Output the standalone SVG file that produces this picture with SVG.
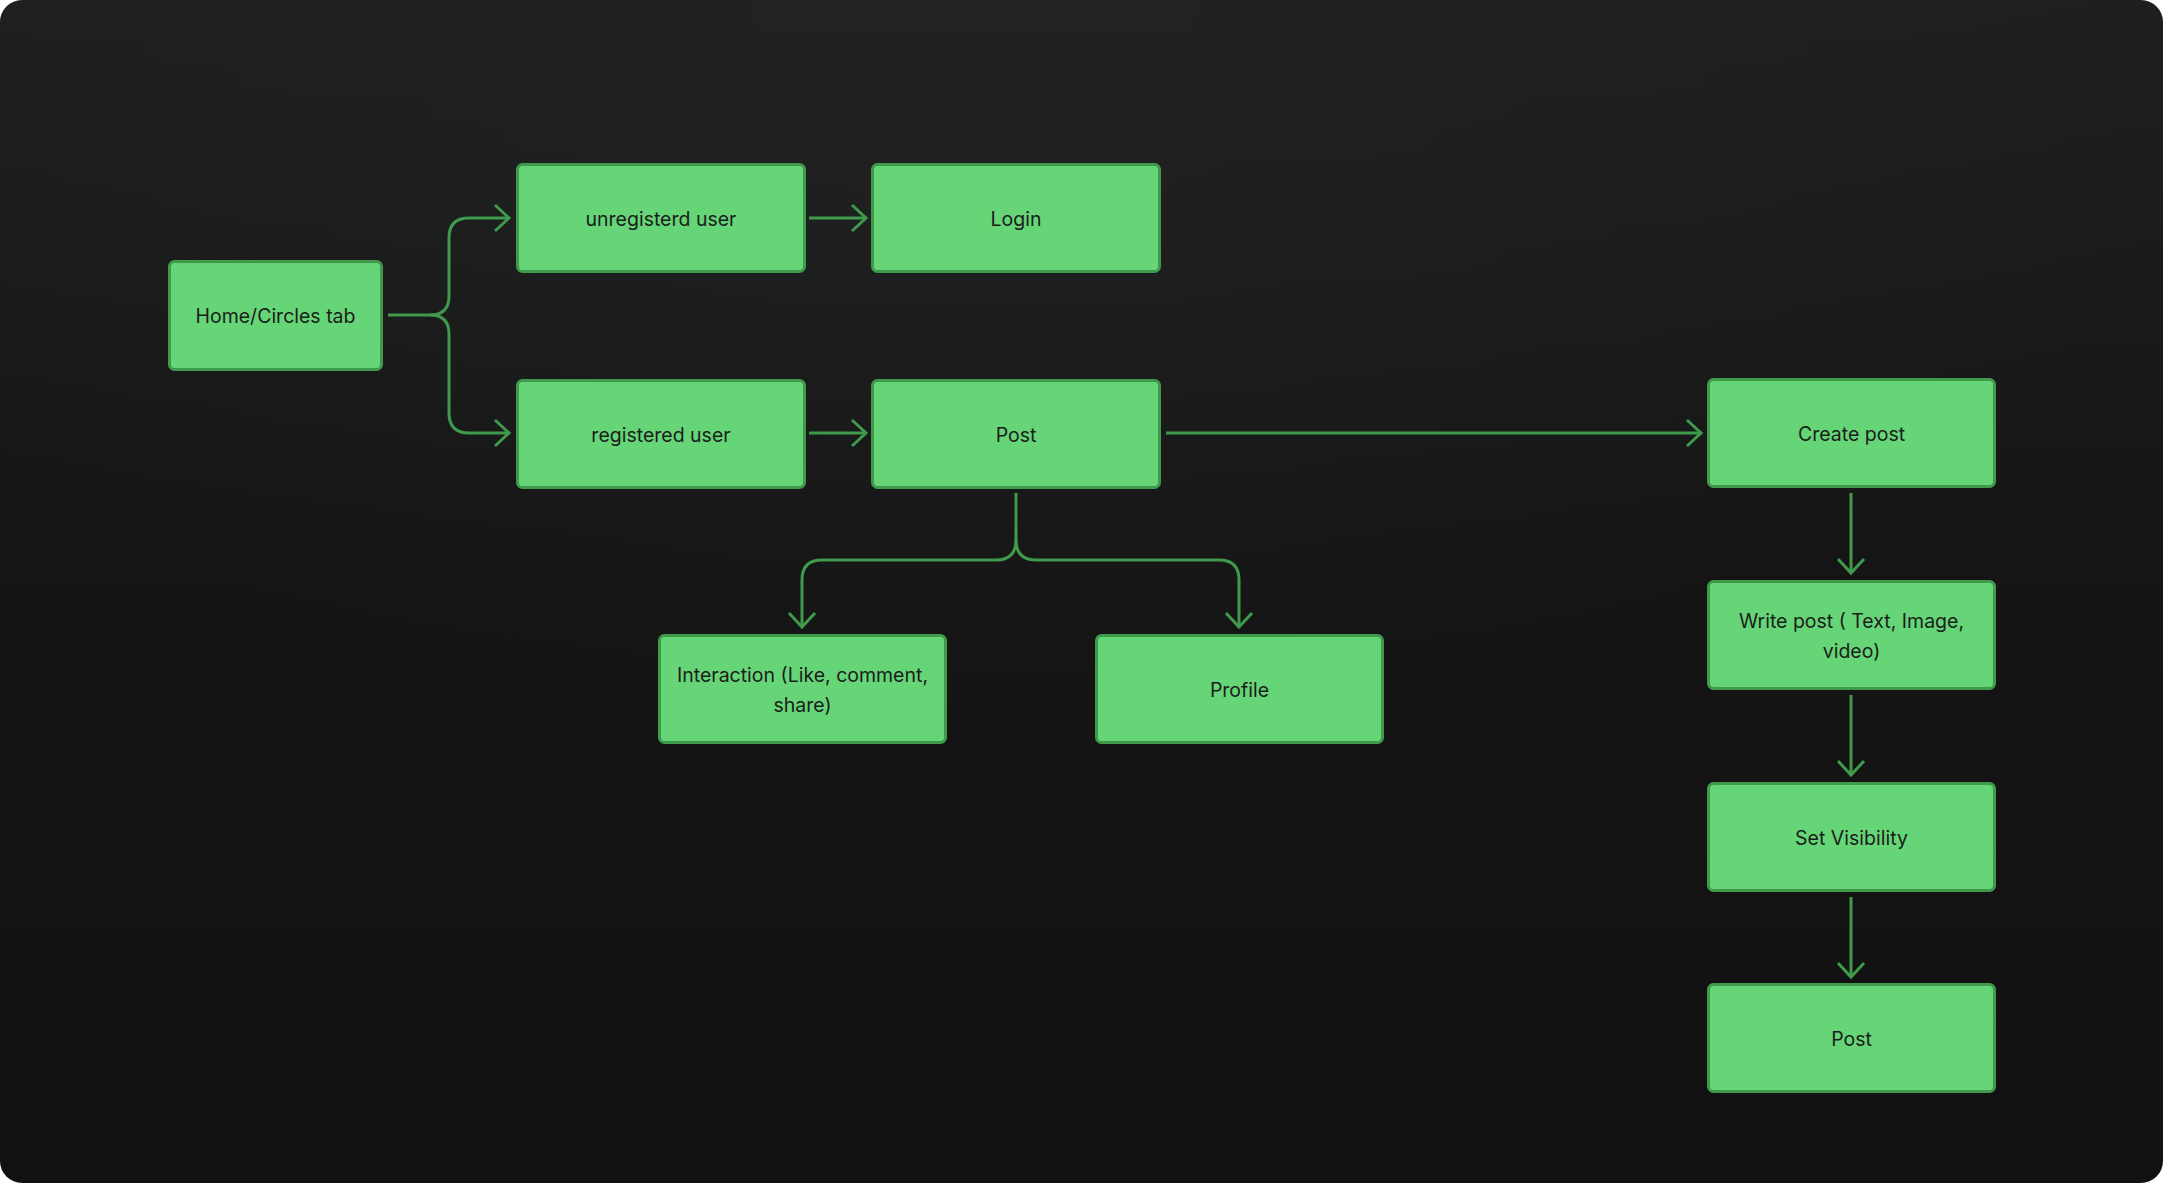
<svg xmlns="http://www.w3.org/2000/svg" width="2163" height="1183" viewBox="0 0 2163 1183">
<defs>
<linearGradient id="bg" x1="0" y1="0" x2="0" y2="1">
<stop offset="0" stop-color="#1e2020"/>
<stop offset="0.45" stop-color="#151515"/>
<stop offset="1" stop-color="#111111"/>
</linearGradient>
<radialGradient id="glow" cx="0.45" cy="0" r="0.6">
<stop offset="0" stop-color="#232525" stop-opacity="0.6"/>
<stop offset="1" stop-color="#232525" stop-opacity="0"/>
</radialGradient>
<marker id="ah" viewBox="0 0 20 30" refX="17" refY="15" markerWidth="20" markerHeight="30" markerUnits="userSpaceOnUse" orient="auto">
<path d="M3 2 L17 15 L3 28" fill="none" stroke="#3f9a4b" stroke-width="3"/>
</marker>
<style>
.node rect{fill:#65d577;stroke:#3f9a4b;stroke-width:3}
.node text{font-family:Inter,"Liberation Sans",sans-serif;font-size:19.5px;fill:#1b1d1b;text-anchor:middle;dominant-baseline:central}
.conn path{fill:none;stroke:#3f9a4b;stroke-width:3}
</style>
</defs>
<rect width="2163" height="1183" fill="#ffffff"/>
<rect width="2163" height="1183" rx="22" fill="url(#bg)"/>
<rect width="2163" height="1183" rx="22" fill="url(#glow)"/>

<g class="conn" id="connectors">
<path d="M388 315 L430 315 Q449 315 449 296 L449 238 Q449 218 469 218 L509 218" marker-end="url(#ah)"/>
<path d="M430 315 Q449 315 449 334 L449 413 Q449 433 469 433 L509 433" marker-end="url(#ah)"/>
<path d="M809 218 L866 218" marker-end="url(#ah)"/>
<path d="M809 433 L866 433" marker-end="url(#ah)"/>
<path d="M1166 433 L1701 433" marker-end="url(#ah)"/>
<path d="M1016 493 L1016 540 Q1016 560 996 560 L822 560 Q802 560 802 580 L802 627" marker-end="url(#ah)"/>
<path d="M1016 540 Q1016 560 1036 560 L1219 560 Q1239 560 1239 580 L1239 627" marker-end="url(#ah)"/>
<path d="M1851 493 L1851 573" marker-end="url(#ah)"/>
<path d="M1851 695 L1851 775" marker-end="url(#ah)"/>
<path d="M1851 897 L1851 977" marker-end="url(#ah)"/>
</g>

<g class="node" id="home"><rect x="169.5" y="261.5" width="212" height="108" rx="5"/><text x="275.5" y="316">Home/Circles tab</text></g>
<g class="node" id="unregistered"><rect x="517.5" y="164.5" width="287" height="107" rx="5"/><text x="661" y="219">unregisterd user</text></g>
<g class="node" id="login"><rect x="872.5" y="164.5" width="287" height="107" rx="5"/><text x="1016" y="219">Login</text></g>
<g class="node" id="registered"><rect x="517.5" y="380.5" width="287" height="107" rx="5"/><text x="661" y="434.5">registered user</text></g>
<g class="node" id="post"><rect x="872.5" y="380.5" width="287" height="107" rx="5"/><text x="1016" y="434.5">Post</text></g>
<g class="node" id="interaction"><rect x="659.5" y="635.5" width="286" height="107" rx="5"/><text x="802.5" y="674.5">Interaction (Like, comment,</text><text x="802.5" y="704.5">share)</text></g>
<g class="node" id="profile"><rect x="1096.5" y="635.5" width="286" height="107" rx="5"/><text x="1239.5" y="689.5">Profile</text></g>
<g class="node" id="create"><rect x="1708.5" y="379.5" width="286" height="107" rx="5"/><text x="1851.5" y="434">Create post</text></g>
<g class="node" id="write"><rect x="1708.5" y="581.5" width="286" height="107" rx="5"/><text x="1851.5" y="620.5">Write post ( Text, Image,</text><text x="1851.5" y="650.5">video)</text></g>
<g class="node" id="visibility"><rect x="1708.5" y="783.5" width="286" height="107" rx="5"/><text x="1851.5" y="837.5">Set Visibility</text></g>
<g class="node" id="post2"><rect x="1708.5" y="984.5" width="286" height="107" rx="5"/><text x="1851.5" y="1038.5">Post</text></g>
</svg>
